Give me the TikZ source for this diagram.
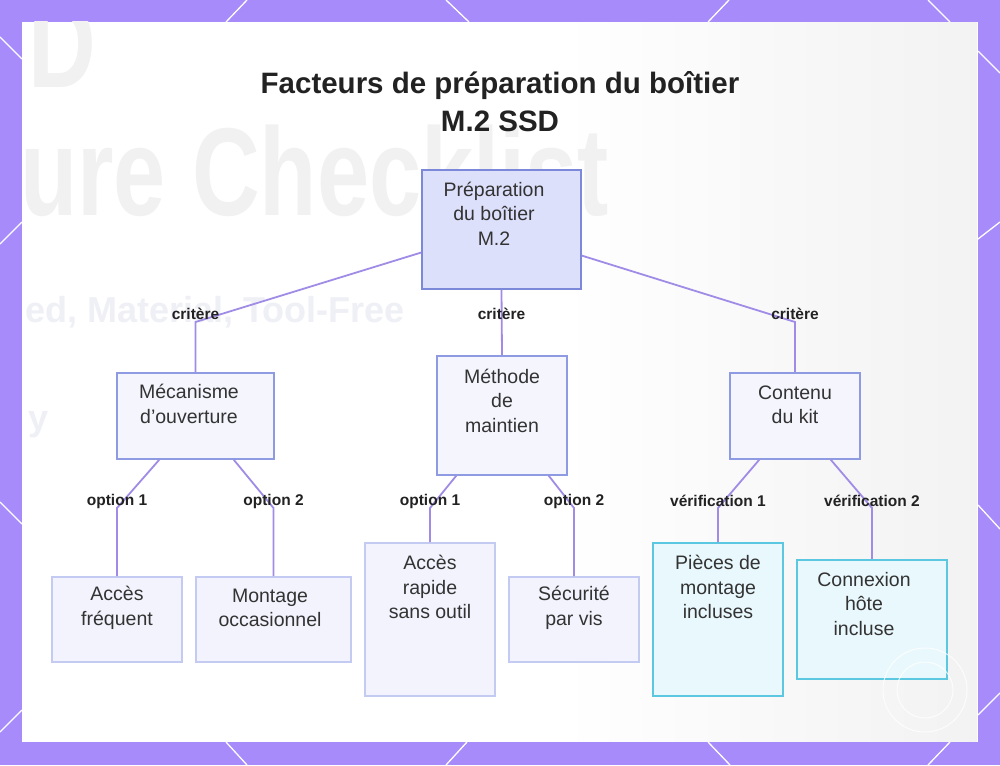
\documentclass[tikz,border=0pt]{standalone}
\usepackage{fontspec}
\setmainfont{Liberation Sans}
\usepackage{xcolor}
\usepackage{tikz}

\definecolor{bgpurple}{HTML}{A78BFA}
\definecolor{edgecol}{HTML}{A08CE6}
\definecolor{rootfill}{HTML}{DDE0FB}
\definecolor{rootline}{HTML}{7C89D9}
\definecolor{midfill}{HTML}{F4F5FD}
\definecolor{midline}{HTML}{8E9BE2}
\definecolor{leaffill}{HTML}{F2F3FD}
\definecolor{leafline}{HTML}{C4CBF3}
\definecolor{kitfill}{HTML}{E9F8FD}
\definecolor{kitline}{HTML}{5BC7E1}
\definecolor{titlecol}{HTML}{222222}
\definecolor{txtcol}{HTML}{333333}
\definecolor{faintgray}{HTML}{F1F1F1}
\definecolor{faintblue}{HTML}{EFF0F6}

\tikzset{
  box/.style={draw, line width=1.6pt, inner sep=0pt},
  rootbox/.style={box, draw=rootline, fill=rootfill},
  midbox/.style={box, draw=midline, fill=midfill},
  leafbox/.style={box, draw=leafline, fill=leaffill},
  kitbox/.style={box, draw=kitline, fill=kitfill},
  boxtext/.style={align=center, text=txtcol, inner sep=0pt,
    font=\fontsize{19.5}{24.5}\selectfont},
  edgelabel/.style={text=titlecol, inner sep=0pt,
    font=\bfseries\fontsize{15.5}{18}\selectfont},
  edge/.style={draw=edgecol, line width=1.8pt},
  bgtext/.style={inner sep=0pt, font=\bfseries\fontsize{125}{125}\selectfont},
}

\begin{document}
\begin{tikzpicture}[x=1pt, y=-1pt]
    \useasboundingbox (0,0) rectangle (1000,765);

    % purple frame with its white pattern lines
    \fill[bgpurple] (0,0) rectangle (1000,765);
    \draw[white, line width=1.3pt] (247,0) -- (226,22) (446,0) -- (469,22)
        (729,0) -- (708,22) (928,0) -- (950,22);
    \draw[white, line width=1.3pt] (226,742) -- (247,765) (467,742) -- (446,765)
        (708,742) -- (730,765) (950,742) -- (928,765);
    \draw[white, line width=1.3pt] (0,37) -- (22,59) (0,244) -- (22,222)
        (0,502) -- (22,524) (0,732) -- (22,710);
    \draw[white, line width=1.3pt] (978,51) -- (1000,73) (978,239) -- (1000,222)
        (978,505) -- (1000,529) (978,715) -- (1000,693);

    % white panel and the faded picture behind the chart
    \fill[white] (22,22) rectangle (978,742);
    \begin{scope}
        \clip (22,22) rectangle (978,742);
        \shade[left color=white, right color=black!5] (560,23) rectangle (977,741);
        \node[bgtext, text=faintgray, anchor=base west] (bgd) at (28,88)
            {\scalebox{0.75}[1]{D}};
        \node[bgtext, text=faintgray, anchor=base west] (bgcheck) at (20,215)
            {\scalebox{0.75}[1]{ure Checklist}};
        \node[inner sep=0pt, text=faintblue, anchor=base west,
            font=\bfseries\fontsize{36}{36}\selectfont] (bgsub) at (25,322)
            {ed, Material, Tool-Free};
        \node[inner sep=0pt, text=faintblue, anchor=base west,
            font=\bfseries\fontsize{36}{36}\selectfont] (bgy) at (28,430) {y};
    \end{scope}

    % title
    \node[align=center, text=titlecol, font=\bfseries\fontsize{29.5}{38}\selectfont]
        (title) at (500,102) {Facteurs de préparation du boîtier\\M.2 SSD};

    % boxes
    \node[rootbox, minimum width=159pt, minimum height=119pt] (root) at (501.5,229.5) {};
    \node[midbox, minimum width=157pt, minimum height=86pt] (mech) at (195.5,416) {};
    \node[midbox, minimum width=130pt, minimum height=119pt] (meth) at (502,415.5) {};
    \node[midbox, minimum width=130pt, minimum height=86pt] (kit) at (795,416) {};
    \node[leafbox, minimum width=130pt, minimum height=85pt] (acc) at (117,619.5) {};
    \node[leafbox, minimum width=155pt, minimum height=85pt] (mont) at (273.5,619.5) {};
    \node[leafbox, minimum width=130pt, minimum height=153pt] (rap) at (430,619.5) {};
    \node[leafbox, minimum width=130pt, minimum height=85pt] (secu) at (574,619.5) {};
    \node[kitbox, minimum width=130pt, minimum height=153pt] (pie) at (718,619.5) {};
    \node[kitbox, minimum width=150pt, minimum height=119pt] (conn) at (872,619.5) {};

    % box texts
    \node[boxtext] (roott) at (494,213.5) {Préparation\\du boîtier\\M.2};
    \node[boxtext] (mecht) at (189,404) {Mécanisme\\d’ouverture};
    \node[boxtext] (metht) at (502,400.5) {Méthode\\de\\maintien};
    \node[boxtext] (kitt) at (795,405) {Contenu\\du kit};
    \node[boxtext] (acct) at (117,608) {Accès\\fréquent};
    \node[boxtext] (montt) at (270,608) {Montage\\occasionnel};
    \node[boxtext] (rapt) at (430,587) {Accès\\rapide\\sans outil};
    \node[boxtext] (secut) at (574,608) {Sécurité\\par vis};
    \node[boxtext] (piet) at (718,587) {Pièces de\\montage\\incluses};
    \node[boxtext] (connt) at (864,604) {Connexion\\hôte\\incluse};

    % where the edge labels sit
    \coordinate (c1) at (195.5,314);
    \coordinate (c2) at (501.5,314);
    \coordinate (c3) at (795,314);
    \coordinate (o11) at (117,501);
    \coordinate (o12) at (273.5,501);
    \coordinate (o21) at (430,501);
    \coordinate (o22) at (574,501);
    \coordinate (v1) at (718,501);
    \coordinate (v2) at (872,501);

    % connectors
    \draw[edge] (root.196) -- ([yshift=-8pt]c1) -- (mech.north);
    \draw[edge] (root.south) -- (meth.north);
    \draw[edge] (root.-18) -- ([yshift=-8pt]c3) -- (kit.north);

    \draw[edge] ([xshift=43pt]mech.south west) -- ([yshift=-7pt]o11) -- (acc.north);
    \draw[edge] ([xshift=-41pt]mech.south east) -- ([yshift=-7pt]o12) -- (mont.north);
    \draw[edge] ([xshift=20pt]meth.south west) -- ([yshift=-7pt]o21) -- (rap.north);
    \draw[edge] ([xshift=-19pt]meth.south east) -- ([yshift=-7pt]o22) -- (secu.north);
    \draw[edge] ([xshift=30pt]kit.south west) -- ([yshift=-7pt]v1) -- (pie.north);
    \draw[edge] ([xshift=-30pt]kit.south east) -- ([yshift=-7pt]v2) -- (conn.north);

    % edge labels
    \node[edgelabel] (c1t) at (c1) {critère};
    \node[edgelabel] (c2t) at (c2) {critère};
    \node[edgelabel] (c3t) at (c3) {critère};
    \node[edgelabel] (o11t) at (o11) {option 1};
    \node[edgelabel] (o12t) at (o12) {option 2};
    \node[edgelabel] (o21t) at (o21) {option 1};
    \node[edgelabel] (o22t) at (o22) {option 2};
    \node[edgelabel] (v1t) at (v1) {vérification 1};
    \node[edgelabel] (v2t) at (v2) {vérification 2};

    % watermark
    \draw[white, line width=1pt, opacity=0.8] (925,690) circle (42pt);
    \draw[white, line width=1pt, opacity=0.8] (925,690) circle (28pt);
\end{tikzpicture}
\end{document}
